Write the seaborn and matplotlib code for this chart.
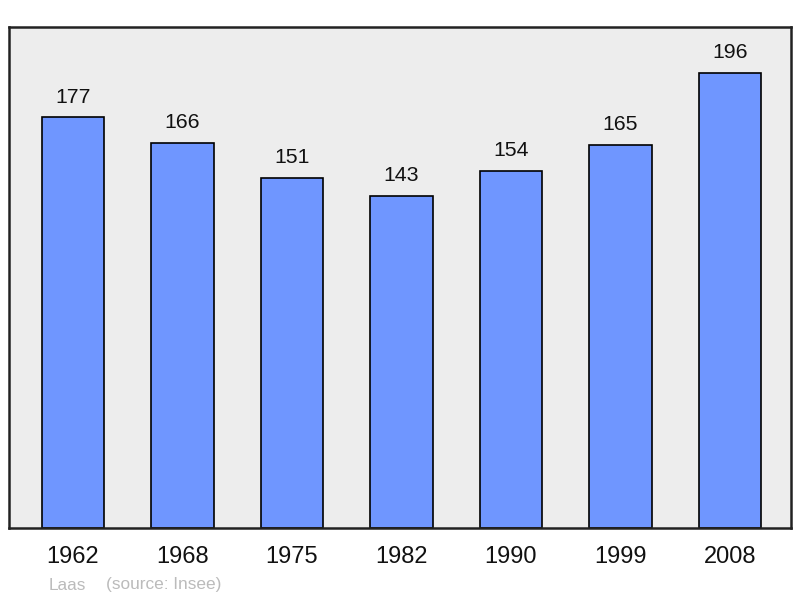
import pandas as pd
import matplotlib.pyplot as plt
import seaborn as sns

years = ['1962', '1968', '1975', '1982', '1990', '1999', '2008']
population = [177, 166, 151, 143, 154, 165, 196]

df = pd.DataFrame({'year': years, 'pop': population})

sns.set_style('white')
plt.rcParams['font.family'] = ['Liberation Sans', 'DejaVu Sans']

fig = plt.figure(figsize=(8, 5.98), dpi=100)
ax = fig.add_axes([9 / 800, 70 / 598, 782 / 800, 501 / 598])
ax.set_facecolor('#ededed')

sns.barplot(data=df, x='year', y='pop', color='#6f96ff', width=0.57,
            edgecolor='black', linewidth=1.2, saturation=1, ax=ax)

# valeurs au-dessus des barres
for i, v in enumerate(population):
    ax.text(i, v + 8.8, str(v), ha='center', va='center', fontsize=15.3, color='#111111')

ax.set_xlim(-0.584, 6.557)
ax.set_ylim(0, 216)
ax.set_yticks([])
ax.set_xlabel('')
ax.set_ylabel('')
ax.tick_params(axis='x', length=0, pad=13, labelsize=17, labelcolor='#111111')
for s in ax.spines.values():
    s.set_color('#222222')
    s.set_linewidth(1.8)

fig.text(49 / 800, 1 - 585 / 598, 'Laas', fontsize=12.4, color='#bbbbbb', va='center')
fig.text(106 / 800, 1 - 585 / 598, '(source: Insee)', fontsize=12.4, color='#bbbbbb', va='center')

fig.savefig('out.png', dpi=100)
